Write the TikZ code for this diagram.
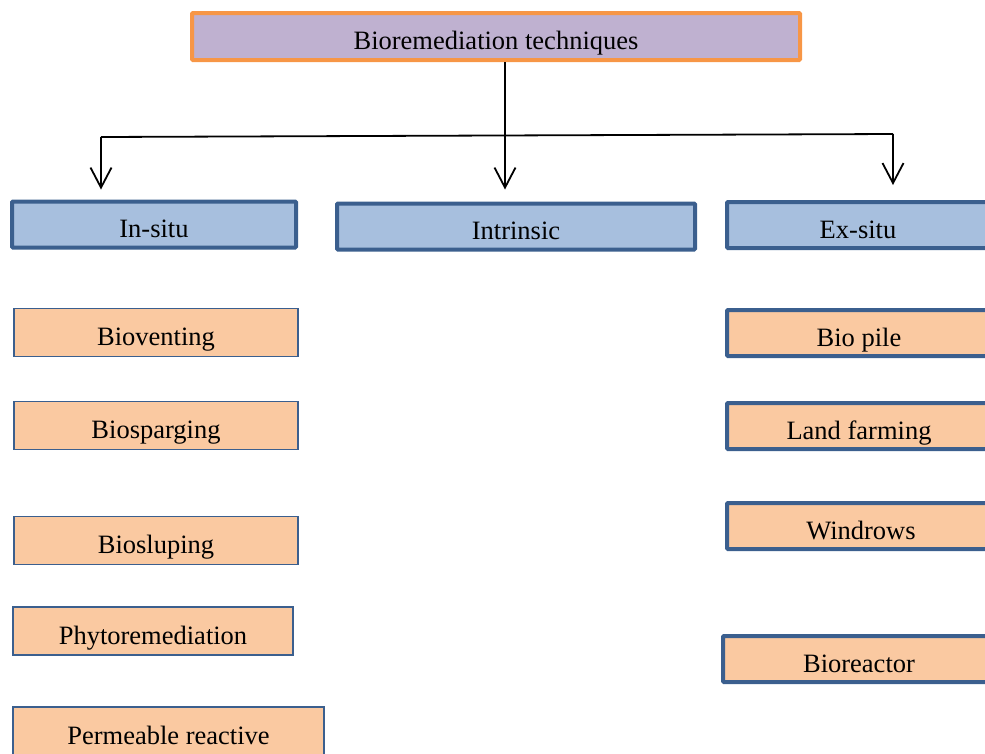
\documentclass[tikz,border=0pt]{standalone}
\usepackage{fontspec}
\setmainfont{Liberation Serif}
\usetikzlibrary{arrows.meta}
\definecolor{topfill}{HTML}{BFB1D0}
\definecolor{topline}{HTML}{F79646}
\definecolor{groupfill}{HTML}{A7BFDE}
\definecolor{groupline}{HTML}{3B5F8E}
\definecolor{methodfill}{HTML}{FAC9A1}
\begin{document}
\begin{tikzpicture}[x=1pt, y=-1pt,
		every node/.style={font=\fontsize{26.5}{30}\selectfont, inner sep=0pt, text height=26pt, text depth=0pt},
		techbox/.style={draw=topline, fill=topfill, line width=4pt, rounded corners=1pt},
		groupbox/.style={draw=groupline, fill=groupfill, line width=4pt, rounded corners=1pt, minimum height=46pt},
		methodbox/.style={draw=groupline, fill=methodfill, line width=1.6pt, minimum height=48pt},
		methodthick/.style={methodbox, line width=4pt, rounded corners=1pt, minimum height=46pt},
		link/.style={line width=1.8pt},
		arrow/.style={link, -{Straight Barb[length=20pt, width=21pt]}}]
			\useasboundingbox (0,0) rectangle (985,753);
			\clip (0,0) rectangle (985,753);
			\node [techbox, minimum width=608pt, minimum height=47pt] (top) at (496, 36.5) {Bioremediation techniques};
			\node [groupbox, minimum width=284pt] (insitu) at (154, 224.5) {In-situ};
			\node [groupbox, minimum width=358pt] (intrinsic) at (516, 226.5) {Intrinsic};
			\node [groupbox, minimum width=262pt] (exsitu) at (858, 225) {Ex-situ};
			\node [methodbox, minimum width=284pt] (bioventing) at (156, 332.5) {Bioventing};
			\node [methodbox, minimum width=284pt] (biosparging) at (156, 425.5) {Biosparging};
			\node [methodbox, minimum width=284pt] (biosluping) at (156, 540.5) {Biosluping};
			\node [methodbox, minimum width=280pt] (phyto) at (153, 631) {Phytoremediation};
			\node [methodbox, minimum width=311pt] (permeable) at (168.5, 731) {Permeable reactive};
			\node [methodthick, minimum width=264pt] (biopile) at (859, 333) {Bio pile};
			\node [methodthick, minimum width=264pt] (landfarming) at (859, 426) {Land farming};
			\node [methodthick, minimum width=268pt] (windrows) at (861, 526) {Windrows};
			\node [methodthick, minimum width=272pt] (bioreactor) at (859, 659) {Bioreactor};
			\coordinate (hub) at (505, 136);
			\coordinate (barL) at (101, 137);
			\coordinate (barR) at (893, 134);
			\draw [link] (barL) -- (barR);
			\draw [arrow, shorten >=12pt] (hub |- top.south) -- (hub |- intrinsic.north);
			\draw [arrow, shorten >=10pt] (barL) -- (barL |- insitu.north);
			\draw [arrow, shorten >=15pt] (barR) -- (barR |- exsitu.north);
	\end{tikzpicture}
\end{document}
